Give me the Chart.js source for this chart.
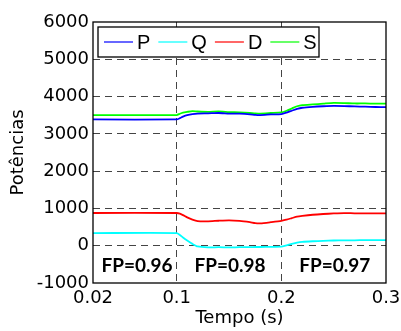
<!DOCTYPE html>
<html>
<head>
<meta charset="utf-8">
<script src="https://cdn.jsdelivr.net/npm/chart.js@4.4.0/dist/chart.umd.min.js"></script>
<style>
  html, body { margin: 0; padding: 0; background: #fff; }
  #grafico { display: block; }
</style>
</head>
<body>
<canvas id="grafico" width="401" height="331"></canvas>
<script>
// Datos
const tiempo = [0.02, 0.1, 0.103, 0.106, 0.11, 0.115, 0.12, 0.13, 0.14, 0.15, 0.16, 0.17, 0.175, 0.18, 0.19, 0.2,
                0.205, 0.21, 0.215, 0.22, 0.23, 0.24, 0.25, 0.26, 0.27, 0.28, 0.29, 0.3];
const potP = [3386, 3386, 3420, 3460, 3500, 3530, 3545, 3550, 3560, 3545, 3540, 3525, 3510, 3505, 3520, 3530,
              3570, 3620, 3670, 3700, 3725, 3740, 3750, 3745, 3735, 3730, 3720, 3715];
const potQ = [340, 340, 290, 220, 140, 50, -20, -45, -40, -45, -40, -40, -35, -35, -30, -27,
              10, 50, 85, 105, 120, 130, 140, 145, 145, 150, 150, 152];
const potD = [877, 877, 860, 820, 760, 700, 660, 655, 670, 680, 665, 630, 605, 600, 630, 665,
              700, 740, 780, 800, 830, 850, 865, 875, 870, 870, 865, 868];
const potS = [3504, 3504, 3540, 3570, 3590, 3610, 3600, 3590, 3600, 3585, 3575, 3560, 3550, 3545, 3560, 3575,
              3620, 3680, 3740, 3770, 3790, 3810, 3830, 3825, 3815, 3815, 3810, 3810];

const xTicks = [0.02, 0.1, 0.2, 0.3];
const fpLabels = ['FP=0.96', 'FP=0.98', 'FP=0.97'];
const fpPos = [0.062, 0.151, 0.251];

const fuente = '"DejaVu Sans", sans-serif';

function serie(label, valores, color) {
    return {
        label: label,
        data: tiempo.map((t, i) => ({ x: t, y: valores[i] })),
        borderColor: color,
        backgroundColor: color,
        borderWidth: 1.8,
        pointRadius: 0,
        tension: 0.2,
        fill: false
    };
}

// Caja, leyenda y textos FP
const extras = {
    id: 'extras',
    afterDraw(chart) {
        const ctx = chart.ctx;
        const a = chart.chartArea;
        const xs = chart.scales.x;
        const ys = chart.scales.y;
        ctx.save();
        ctx.strokeStyle = '#000';
        ctx.lineWidth = 1.3;
        ctx.strokeRect(a.left, a.top, a.right - a.left, a.bottom - a.top);

        // textos FP
        ctx.fillStyle = '#000';
        ctx.font = 'bold 19px Lato, "Liberation Sans", sans-serif';
        ctx.textAlign = 'center';
        ctx.textBaseline = 'middle';
        fpLabels.forEach((txt, i) => {
            ctx.fillText(txt, xs.getPixelForValue(fpPos[i]), ys.getPixelForValue(-530));
        });

        // leyenda
        const bx = a.left + 5, by = a.top + 5, bw = 221, bh = 30;
        ctx.fillStyle = '#fff';
        ctx.fillRect(bx, by, bw, bh);
        ctx.strokeStyle = '#000';
        ctx.lineWidth = 1.3;
        ctx.strokeRect(bx, by, bw, bh);
        ctx.font = '20px "Liberation Sans", Arial, sans-serif';
        ctx.textAlign = 'left';
        let x = bx + 6;
        const cy = by + bh / 2;
        chart.data.datasets.forEach(ds => {
            ctx.strokeStyle = ds.borderColor;
            ctx.lineWidth = 1.2;
            ctx.beginPath();
            ctx.moveTo(x, cy);
            ctx.lineTo(x + 29, cy);
            ctx.stroke();
            ctx.fillStyle = '#000';
            ctx.fillText(ds.label, x + 33, cy + 1);
            x += 33 + ctx.measureText(ds.label).width + 8;
        });
        ctx.restore();
    }
};

const ctx = document.getElementById('grafico').getContext('2d');
new Chart(ctx, {
    type: 'line',
    data: {
        datasets: [
            serie('P', potP, '#0000ff'),
            serie('Q', potQ, '#00ffff'),
            serie('D', potD, '#ff0000'),
            serie('S', potS, '#00ff00')
        ]
    },
    plugins: [extras],
    options: {
        responsive: false,
        animation: false,
        layout: { padding: { left: 0, top: 22, right: 15, bottom: 0 } },
        plugins: { legend: { display: false }, tooltip: { enabled: false } },
        scales: {
            x: {
                type: 'linear',
                min: 0.02,
                max: 0.3,
                afterBuildTicks: s => { s.ticks = xTicks.map(v => ({ value: v })); },
                afterFit: s => { s.height = 48; s.paddingRight = 0; s.paddingLeft = 0; },
                border: { display: false, dash: [7, 5] },
                grid: {
                    color: c => (c.tick && (c.tick.value === 0.1 || c.tick.value === 0.2)) ? '#444' : 'rgba(0,0,0,0)',
                    lineWidth: 1,
                    drawTicks: false
                },
                ticks: {
                    color: '#000',
                    padding: 5,
                    maxRotation: 0,
                    font: { family: fuente, size: 18 },
                    callback: v => String(v)
                },
                title: {
                    display: true,
                    text: 'Tempo (s)',
                    color: '#000',
                    padding: { top: 0, bottom: 2 },
                    font: { family: fuente, size: 18 }
                }
            },
            y: {
                min: -1000,
                max: 6000,
                afterFit: s => { s.width = 93; s.paddingTop = 0; s.paddingBottom = 0; },
                border: { display: false, dash: [7, 5] },
                grid: {
                    color: c => (c.tick && (c.tick.value === 6000 || c.tick.value === -1000)) ? 'rgba(0,0,0,0)' : '#444',
                    lineWidth: 1,
                    drawTicks: false
                },
                ticks: {
                    stepSize: 1000,
                    color: '#000',
                    padding: 4,
                    font: { family: fuente, size: 18 },
                    callback: v => String(v)
                },
                title: {
                    display: true,
                    text: 'Potências',
                    color: '#000',
                    padding: { top: 8, bottom: 0 },
                    font: { family: fuente, size: 18 }
                }
            }
        }
    }
});
</script>
</body>
</html>
